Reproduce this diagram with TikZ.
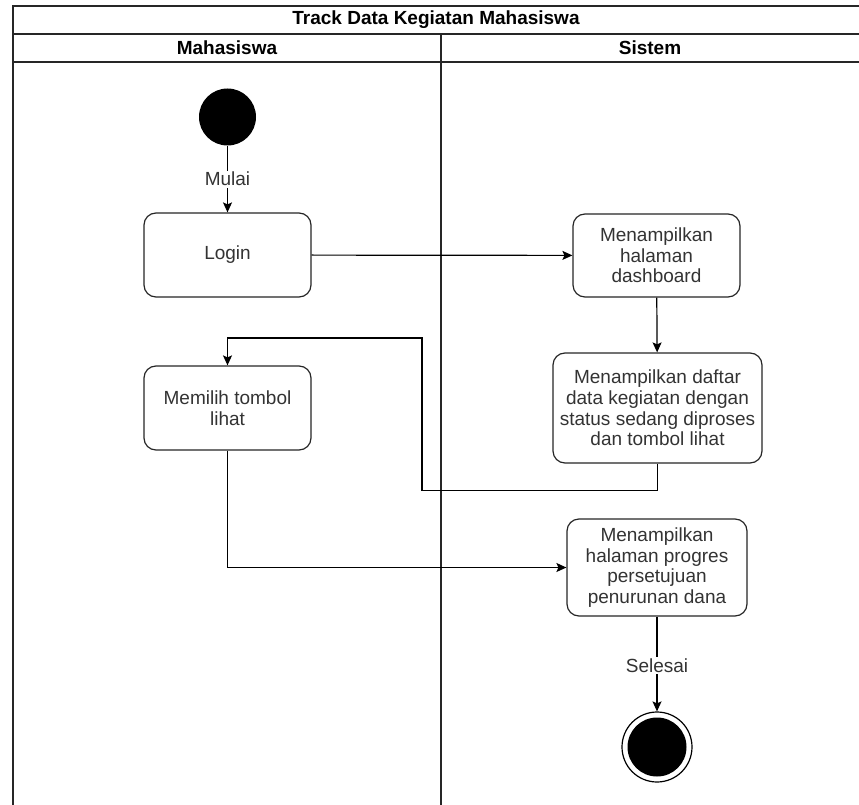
\documentclass[tikz,border=0pt]{standalone}
\usepackage{amsmath}
\usepackage{xcolor}
\usepackage{fontspec}
\setmainfont{Liberation Sans}
\usepackage{tikz}
\usetikzlibrary{arrows.meta}

\begin{document}
\begin{tikzpicture}[x=1pt,y=1pt,yscale=-1,xscale=1,
  lane/.style={draw=black!85,line width=1.2pt},
  act/.style={draw=black!85,line width=1.2pt,rounded corners=12pt,fill=white,inner sep=0pt,align=center,text=black!80,font=\fontsize{19}{20.7}\selectfont},
  flow/.style={draw=black,line width=1.2pt,-{Stealth[length=10pt,width=9pt,inset=2pt]}},
  lbl/.style={fill=white,inner sep=1.5pt,text=black!80,font=\fontsize{19}{20.7}\selectfont},
  hdr/.style={inner sep=0pt,font=\fontsize{19}{20}\selectfont\bfseries}]
\useasboundingbox (0,0) rectangle (859,805);

%Shape: Swimlane [id:lane] 
\draw [lane]  (13,805) -- (13,6) -- (859,6) ;
\draw [lane]  (13,34) -- (859,34) ;
\draw [lane]  (13,62) -- (859,62) ;
\draw [lane]  (441,34) -- (441,805) ;

% Text Node
\node [hdr] (title) at (436,20) {Track Data Kegiatan Mahasiswa};
% Text Node
\node [hdr] (mhs) at (227,48) {Mahasiswa};
% Text Node
\node [hdr] (sis) at (650,48) {Sistem};

%Shape: Circle [id:start] 
\node [circle,fill=black,minimum size=57pt,inner sep=0pt] (start) at (227.5,117) {};
%Shape: Rounded Rect [id:login] 
\node [act,minimum width=167pt,minimum height=84pt] (login) at (227.5,255) {Login};
%Shape: Rounded Rect [id:pilih] 
\node [act,minimum width=167pt,minimum height=84pt] (pilih) at (227.5,408) {Memilih tombol\\lihat};
%Shape: Rounded Rect [id:dash] 
\node [act,minimum width=167pt,minimum height=83pt] (dash) at (656.5,255.5) {Menampilkan\\halaman\\dashboard};
%Shape: Rounded Rect [id:daftar] 
\node [act,minimum width=209pt,minimum height=110pt] (daftar) at (657.5,408) {Menampilkan daftar\\data kegiatan dengan\\status sedang diproses\\dan tombol lihat};
%Shape: Rounded Rect [id:progres] 
\node [act,minimum width=180pt,minimum height=97pt] (progres) at (657,567.5) {Menampilkan\\halaman progres\\persetujuan\\penurunan dana};
%Shape: Circle [id:end] 
\node [circle,draw=black,line width=1.2pt,fill=white,minimum size=70pt,inner sep=0pt] (end) at (657,747) {};
\node [circle,fill=black,minimum size=59pt,inner sep=0pt] (endin) at (end.center) {};

%Straight Lines [id:flows] 
\draw [flow]  (start) -- node [lbl] {Mulai} (login) ;
\draw [flow]  (login) -- (dash) ;
\draw [flow]  (dash) -- (daftar) ;
\draw [flow]  (daftar.south) -- ++(0,27) -| (422,338) -| (pilih.north) ;
\draw [flow]  (pilih.south) |- (progres.west) ;
\draw [flow]  (progres) -- node [lbl,pos=0.52] {Selesai} (end) ;
\end{tikzpicture}
\end{document}
